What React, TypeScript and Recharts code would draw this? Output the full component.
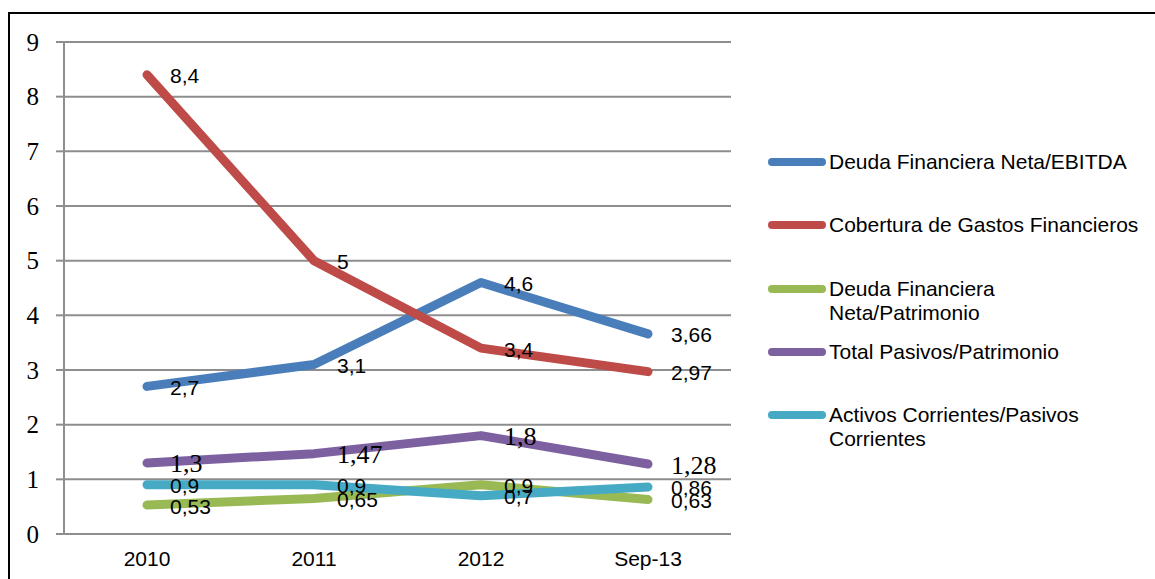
import React from 'react';
import { LineChart, Line, XAxis, YAxis, CartesianGrid, LabelList } from 'recharts';

const categories = ['2010', '2011', '2012', 'Sep-13'];
const deudaEbitda = [2.7, 3.1, 4.6, 3.66];
const coberturaGastos = [8.4, 5, 3.4, 2.97];
const deudaPatrimonio = [0.53, 0.65, 0.9, 0.63];
const pasivosPatrimonio = [1.3, 1.47, 1.8, 1.28];
const activosPasivos = [0.9, 0.9, 0.7, 0.86];
const yTicks = [0, 1, 2, 3, 4, 5, 6, 7, 8, 9];

const series = [
  { key: 'deudaEbitda', name: 'Deuda Financiera Neta/EBITDA', color: '#4A7EBB', values: deudaEbitda, serif: false },
  { key: 'cobertura', name: 'Cobertura de Gastos Financieros', color: '#BE4B48', values: coberturaGastos, serif: false },
  { key: 'deudaPatrimonio', name: 'Deuda Financiera Neta/Patrimonio', color: '#98B954', values: deudaPatrimonio, serif: false },
  { key: 'pasivosPatrimonio', name: 'Total Pasivos/Patrimonio', color: '#7D60A0', values: pasivosPatrimonio, serif: true },
  { key: 'activosPasivos', name: 'Activos Corrientes/Pasivos Corrientes', color: '#46AAC5', values: activosPasivos, serif: false },
];

const data = categories.map((cat, i) => {
  const row: Record<string, string | number> = { cat };
  series.forEach((s) => {
    row[s.key] = s.values[i];
  });
  return row;
});

const SANS = '"Liberation Sans", Arial, sans-serif';
const SERIF = '"Liberation Serif", "Times New Roman", serif';
const GRID = '#8e8e8e';

// data labels sit just right of each point, values shown with decimal comma
const makeLabel = (serif: boolean) => (props: any) => {
  const { x, y, value } = props;
  return (
    <text
      x={x + 23}
      y={y + 1}
      dominantBaseline="central"
      style={{ fontFamily: serif ? SERIF : SANS, fontSize: serif ? 26 : 21 }}
      fill="#000"
    >
      {String(value).replace('.', ',')}
    </text>
  );
};

const renderYTick = (props: any) => {
  const { x, y, payload } = props;
  return (
    <text
      x={x}
      y={y}
      textAnchor="end"
      dominantBaseline="central"
      style={{ fontFamily: SERIF, fontSize: 25 }}
      fill="#000"
    >
      {payload.value}
    </text>
  );
};

const renderXTick = (props: any) => {
  const { x, y, payload } = props;
  return (
    <text
      x={x}
      y={y}
      textAnchor="middle"
      dominantBaseline="central"
      style={{ fontFamily: SANS, fontSize: 21 }}
      fill="#000"
    >
      {payload.value}
    </text>
  );
};

export default function App() {
  return (
    <>
      <style>{'html,body{margin:0;overflow:hidden;background:#fff}'}</style>
      <div
        style={{
          position: 'absolute',
          left: 8,
          top: 12,
          width: 1147,
          height: 567,
          boxSizing: 'border-box',
          borderTop: '2px solid #000',
          borderLeft: '2px solid #000',
          background: '#fff',
        }}
      >
        <LineChart width={1145} height={560} data={data} margin={{ top: 28, right: 424, bottom: 0, left: 0 }}>
          <CartesianGrid vertical={false} stroke={GRID} strokeWidth={2} />
          <XAxis
            dataKey="cat"
            height={40}
            padding={{ left: 83, right: 83 }}
            axisLine={{ stroke: GRID, strokeWidth: 2 }}
            tickLine={false}
            tickSize={0}
            tickMargin={24}
            tick={renderXTick}
          />
          <YAxis
            width={54}
            domain={[0, 9]}
            ticks={yTicks}
            interval={0}
            axisLine={{ stroke: GRID, strokeWidth: 2 }}
            tickLine={{ stroke: GRID, strokeWidth: 2 }}
            tickSize={8}
            tickMargin={17}
            tick={renderYTick}
          />
          {series.map((s) => (
            <Line
              key={s.key}
              dataKey={s.key}
              name={s.name}
              stroke={s.color}
              strokeWidth={9}
              strokeLinecap="round"
              strokeLinejoin="round"
              dot={false}
              activeDot={false}
              isAnimationActive={false}
            >
              <LabelList dataKey={s.key} content={makeLabel(s.serif)} />
            </Line>
          ))}
        </LineChart>
        {series.map((s, i) => (
          <div
            key={s.key}
            style={{
              position: 'absolute',
              left: 758,
              top: 148 + i * 63.25 - 12,
              display: 'flex',
              alignItems: 'flex-start',
              fontFamily: SANS,
              fontSize: 21,
              lineHeight: '24px',
              color: '#000',
            }}
          >
            <div style={{ width: 58, height: 8, borderRadius: 4, background: s.color, marginTop: 8, marginRight: 3 }} />
            <div style={{ width: 316 }}>{s.name}</div>
          </div>
        ))}
      </div>
    </>
  );
}
